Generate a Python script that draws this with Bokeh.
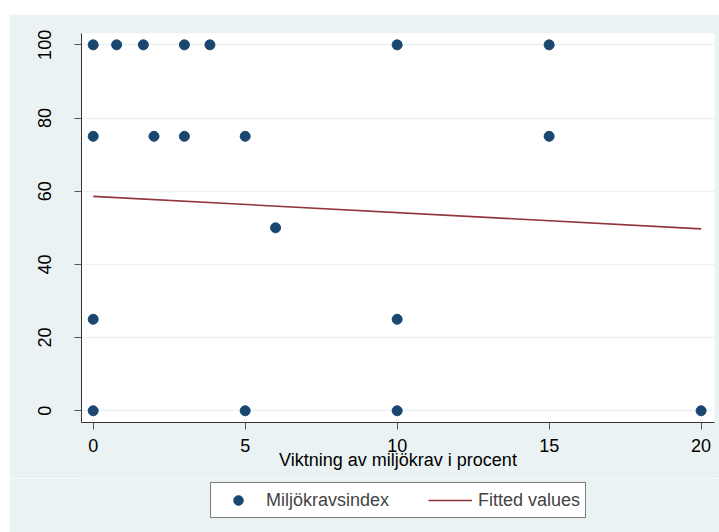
from bokeh.plotting import figure
from bokeh.models import Range1d, FixedTicker, Legend, LegendItem, Spacer
from bokeh.layouts import column, row
from bokeh.embed import file_html
from bokeh.resources import INLINE

# Data
weight = [0, 0.77, 1.65, 3, 3.84, 10, 15,
          0, 2, 3, 5, 15,
          6,
          0, 10,
          0, 5, 10, 20]
index = [100, 100, 100, 100, 100, 100, 100,
         75, 75, 75, 75, 75,
         50,
         25, 25,
         0, 0, 0, 0]
fit_x = [0, 20]
fit_y = [58.6, 49.7]
x_ticks = [0, 5, 10, 15, 20]
y_ticks = [0, 20, 40, 60, 80, 100]
series_names = ["Miljökravsindex", "Fitted values"]

BG = "#EAF2F3"
NAVY = "#1A476F"
MAROON = "#90353B"
FONT = "Liberation Sans"

p = figure(width=710, height=464, output_backend="svg", toolbar_location=None,
           x_range=Range1d(-0.385, 20.44), y_range=Range1d(-3.2, 103.1),
           min_border_left=72, min_border_right=5, min_border_top=19,
           min_border_bottom=56,
           background_fill_color="white", border_fill_color=BG,
           outline_line_color=None)

sc = p.scatter(weight, index, size=10, color=NAVY)
ln = p.line(fit_x, fit_y, line_color=MAROON, line_width=1.6)

p.xgrid.visible = False
p.ygrid.grid_line_color = BG
p.ygrid.grid_line_width = 1.5

for ax in (p.xaxis[0], p.yaxis[0]):
    ax.axis_line_color = "#333333"
    ax.axis_line_width = 1
    ax.major_tick_line_color = "#555555"
    ax.major_tick_out = 7
    ax.major_tick_in = 0
    ax.minor_tick_line_color = None
    ax.major_label_text_font = FONT
    ax.major_label_text_font_size = "18px"
    ax.major_label_text_color = "black"
    ax.axis_label_text_font = FONT
    ax.axis_label_text_font_size = "18px"
    ax.axis_label_text_font_style = "normal"
    ax.axis_label_text_color = "black"

p.xaxis.ticker = FixedTicker(ticks=x_ticks)
p.yaxis.ticker = FixedTicker(ticks=y_ticks)
p.xaxis.axis_label = "Viktning av miljökrav i procent"
p.xaxis.major_label_standoff = 9
p.xaxis.axis_label_standoff = -5
p.yaxis.major_label_orientation = "vertical"
p.yaxis.major_label_standoff = 23

# Legend strip below the plot (same series, drawn outside its visible range)
p2 = figure(width=710, height=54, output_backend="svg", toolbar_location=None,
            x_range=Range1d(-200, -199), y_range=Range1d(-200, -199),
            min_border=0, background_fill_color=BG, border_fill_color=BG,
            outline_line_color=None)
p2.axis.visible = False
p2.grid.visible = False
lg_sc = p2.scatter(weight, index, size=10, color=NAVY)
lg_ln = p2.line(fit_x, fit_y, line_color=MAROON, line_width=1.6)

legend = Legend(items=[LegendItem(label=series_names[0], renderers=[lg_sc]),
                       LegendItem(label=series_names[1], renderers=[lg_ln])],
                orientation="horizontal", location=(129, 14),
                border_line_color="black", border_line_width=1,
                background_fill_color="white", background_fill_alpha=1,
                label_text_font=FONT, label_text_font_size="18px",
                glyph_width=44, glyph_height=24, label_height=20,
                label_standoff=6, spacing=39, padding=5, margin=0)
p2.add_layout(legend, "center")

layout = row(Spacer(width=9, height=532),
             column(Spacer(width=710, height=14), p, p2))
open("out.html", "w").write(file_html(layout, INLINE))
